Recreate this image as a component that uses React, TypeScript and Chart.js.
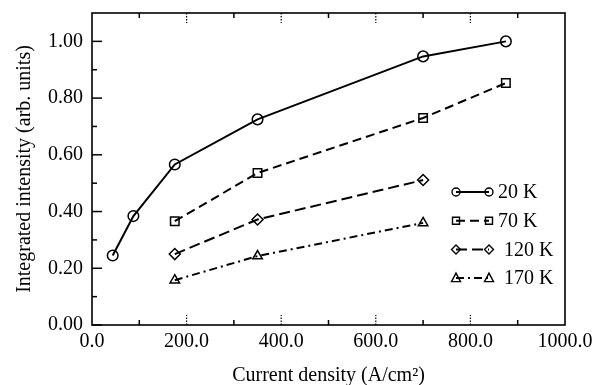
import React, { useEffect, useRef } from "react";
import { Chart, registerables } from "chart.js";

Chart.register(...registerables);

const currentDensity20K = [43.75, 87.5, 175, 350, 700, 875];
const intensity20K = [0.245, 0.384, 0.566, 0.725, 0.947, 1.0];
const currentDensity70K = [175, 350, 700, 875];
const intensity70K = [0.366, 0.536, 0.73, 0.853];
const currentDensity120K = [175, 350, 700];
const intensity120K = [0.25, 0.372, 0.511];
const currentDensity170K = [175, 350, 700];
const intensity170K = [0.158, 0.243, 0.36];

const seriesLabels = ["20 K", "70 K", "120 K", "170 K"];
const xTickValues = [0, 200, 400, 600, 800, 1000];
const yTickValues = [0, 0.2, 0.4, 0.6, 0.8, 1.0];
const xMinorSolid = [100, 300, 500, 700, 900];
const xMinorDotted = [200, 400, 600, 800];
const yMinor = [0.1, 0.3, 0.5, 0.7, 0.9];

const FONT = "'Liberation Serif', 'DejaVu Serif', serif";

const styles = [
  { dash: [] as number[], shape: "circle", width: 2 },
  { dash: [9, 5], shape: "rect", width: 2 },
  { dash: [11, 5], shape: "diamond", width: 2 },
  { dash: [8, 4, 2, 4], shape: "triangle", width: 2 },
];

function drawMarker(ctx: CanvasRenderingContext2D, shape: string, x: number, y: number) {
  ctx.save();
  ctx.setLineDash([]);
  ctx.lineWidth = 1.4;
  ctx.strokeStyle = "#000";
  ctx.beginPath();
  if (shape === "circle") {
    ctx.arc(x, y, 4, 0, Math.PI * 2);
  } else if (shape === "rect") {
    ctx.rect(x - 3.5, y - 3.5, 7, 7);
  } else if (shape === "diamond") {
    ctx.moveTo(x, y - 4.5);
    ctx.lineTo(x + 4.5, y);
    ctx.lineTo(x, y + 4.5);
    ctx.lineTo(x - 4.5, y);
    ctx.closePath();
  } else {
    ctx.moveTo(x, y - 5);
    ctx.lineTo(x + 4.5, y + 3.5);
    ctx.lineTo(x - 4.5, y + 3.5);
    ctx.closePath();
  }
  ctx.stroke();
  ctx.restore();
}

const framePlugin = {
  id: "frame",
  afterDatasetsDraw(chart: any) {
    const { ctx, chartArea: a, scales } = chart;
    const xs = scales.x;
    const ys = scales.y;
    ctx.save();
    ctx.strokeStyle = "#000";
    ctx.lineWidth = 1.5;
    ctx.setLineDash([]);
    for (const v of xMinorSolid) {
      const px = xs.getPixelForValue(v);
      ctx.beginPath();
      ctx.moveTo(px, a.bottom);
      ctx.lineTo(px, a.bottom - 5);
      ctx.moveTo(px, a.top);
      ctx.lineTo(px, a.top + 5);
      ctx.stroke();
    }
    ctx.lineWidth = 1.2;
    ctx.setLineDash([1.5, 1.5]);
    for (const v of xMinorDotted) {
      const px = xs.getPixelForValue(v);
      ctx.beginPath();
      ctx.moveTo(px, a.bottom);
      ctx.lineTo(px, a.bottom - 10);
      ctx.moveTo(px, a.top);
      ctx.lineTo(px, a.top + 10);
      ctx.stroke();
    }
    ctx.setLineDash([]);
    ctx.lineWidth = 1.5;
    for (const v of yTickValues) {
      const py = ys.getPixelForValue(v);
      ctx.beginPath();
      ctx.moveTo(a.left, py);
      ctx.lineTo(a.left + 10, py);
      ctx.stroke();
    }
    for (const v of yMinor) {
      const py = ys.getPixelForValue(v);
      ctx.beginPath();
      ctx.moveTo(a.left, py);
      ctx.lineTo(a.left + 5, py);
      ctx.stroke();
    }
    ctx.lineWidth = 1.6;
    ctx.strokeRect(a.left, a.top, a.right - a.left, a.bottom - a.top);

    // legend
    const lx1 = 456;
    const lx2 = 489;
    const ly0 = 192;
    const dy = 28.7;
    ctx.font = `20px ${FONT}`;
    ctx.fillStyle = "#000";
    ctx.textBaseline = "middle";
    ctx.textAlign = "left";
    seriesLabels.forEach((lab, i) => {
      const st = styles[i];
      const y = ly0 + dy * i;
      ctx.save();
      ctx.lineWidth = st.width;
      ctx.setLineDash(st.dash);
      ctx.beginPath();
      ctx.moveTo(lx1, y);
      ctx.lineTo(lx2, y);
      ctx.stroke();
      ctx.restore();
      drawMarker(ctx, st.shape, lx1, y);
      drawMarker(ctx, st.shape, lx2, y);
      ctx.fillText(lab, i < 2 ? 498 : 504, y + 1);
    });
    ctx.restore();
  },
};

function makeData(xs: number[], ys: number[]) {
  return xs.map((x, i) => ({ x, y: ys[i] }));
}

export default function App() {
  const canvasRef = useRef<HTMLCanvasElement | null>(null);

  useEffect(() => {
    if (!canvasRef.current) return;
    const pointStyles = ["circle", "rect", "rectRot", "triangle"];
    const radii = [5.3, 6, 5.5, 5.5];
    const sets = [
      makeData(currentDensity20K, intensity20K),
      makeData(currentDensity70K, intensity70K),
      makeData(currentDensity120K, intensity120K),
      makeData(currentDensity170K, intensity170K),
    ];
    const chart = new Chart(canvasRef.current, {
      type: "scatter",
      data: {
        datasets: sets.map((d, i) => ({
          label: seriesLabels[i],
          data: d,
          showLine: true,
          borderColor: "#000",
          backgroundColor: "rgba(0,0,0,0)",
          borderWidth: styles[i].width,
          borderDash: styles[i].dash,
          pointStyle: pointStyles[i] as any,
          pointRadius: radii[i],
          pointBorderWidth: 1.5,
          pointBorderColor: "#000",
          pointBackgroundColor: "rgba(0,0,0,0)",
          tension: 0,
        })),
      },
      options: {
        animation: false,
        responsive: true,
        maintainAspectRatio: false,
        layout: { padding: { top: 13, right: 29, left: 0, bottom: 0 } },
        plugins: { legend: { display: false }, tooltip: { enabled: false } },
        scales: {
          x: {
            type: "linear",
            min: 0,
            max: 1000,
            afterBuildTicks: (s: any) => {
              s.ticks = xTickValues.map((v) => ({ value: v }));
            },
            afterFit: (s: any) => {
              s.height = 60;
              s.paddingLeft = 0;
              s.paddingRight = 0;
            },
            ticks: {
              callback: (v: any) => Number(v).toFixed(1),
              font: { family: FONT, size: 20 },
              color: "#000",
              padding: 5,
              maxRotation: 0,
              autoSkip: false,
            },
            grid: { display: false, drawTicks: false },
            border: { display: false },
            title: {
              display: true,
              text: "Current density (A/cm²)",
              font: { family: FONT, size: 20 },
              color: "#000",
              padding: { top: 0, bottom: -3 },
            },
          },
          y: {
            type: "linear",
            min: 0,
            max: 1.1,
            afterBuildTicks: (s: any) => {
              s.ticks = yTickValues.map((v) => ({ value: v }));
            },
            afterFit: (s: any) => {
              s.width = 92;
              s.paddingTop = 0;
              s.paddingBottom = 0;
            },
            ticks: {
              callback: (v: any) => Number(v).toFixed(2),
              font: { family: FONT, size: 20 },
              color: "#000",
              padding: 9,
            },
            grid: { display: false, drawTicks: false },
            border: { display: false },
            title: {
              display: true,
              text: "Integrated intensity (arb. units)",
              font: { family: FONT, size: 20 },
              color: "#000",
              padding: { top: 13, bottom: 0 },
            },
          },
        },
      },
      plugins: [framePlugin],
    });
    return () => chart.destroy();
  }, []);

  return (
    <div style={{ position: "fixed", left: 0, top: 0, width: 594, height: 385, background: "#fff" }}>
      <canvas ref={canvasRef} />
    </div>
  );
}
